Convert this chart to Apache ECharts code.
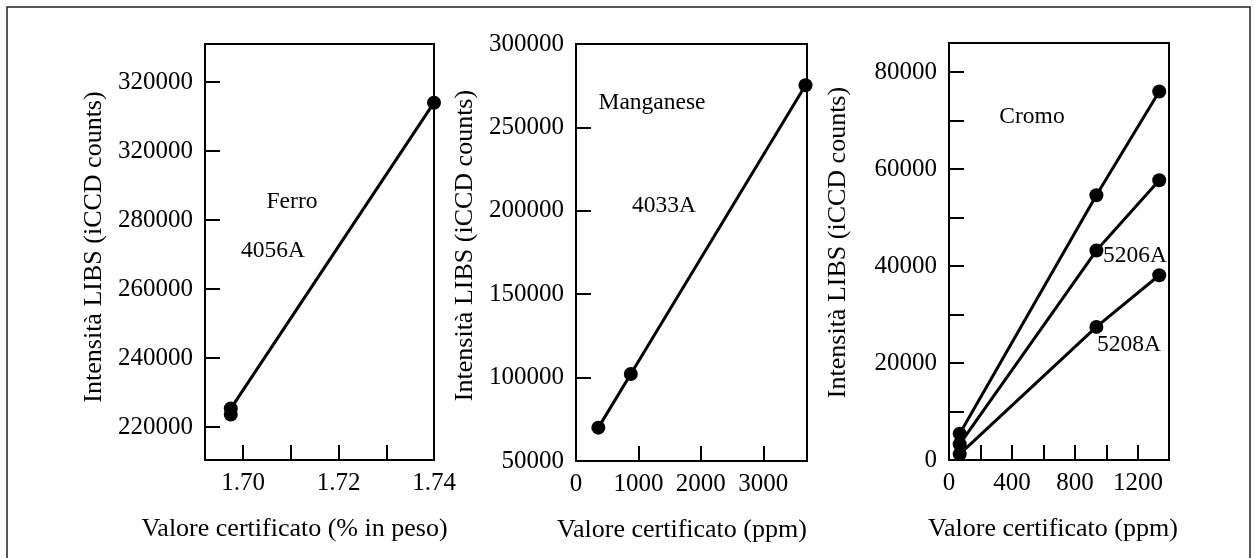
<!DOCTYPE html>
<html>
<head>
<meta charset="utf-8">
<title>Intensità LIBS – curve di calibrazione</title>
<script src="https://cdn.jsdelivr.net/npm/echarts@6/dist/echarts.min.js"></script>
<style>
  html, body { margin: 0; padding: 0; background: #fff; }
  #chart { width: 1254px; height: 558px; }
</style>
</head>
<body>
<div id="chart"></div>
<script>
// ---- Ferro, riga 4056A ----
const ferroX = [1.6974, 1.6974, 1.74];
const ferroY = [223650, 225400, 314000];
const ferroXTickValues = [1.70, 1.72, 1.74];
const ferroXTickLabels = ['1.70', '1.72', '1.74'];
const ferroYTickValues = [220000, 240000, 260000, 280000, 300000, 320000];
const ferroYTickLabels = ['220000', '240000', '260000', '280000', '320000', '320000'];

// ---- Manganese, riga 4033A ----
const mnX = [358, 878, 3676];
const mnY = [70000, 102200, 275300];
const mnXTickValues = [0, 1000, 2000, 3000];
const mnXTickLabels = ['0', '1000', '2000', '3000'];
const mnYTickValues = [50000, 100000, 150000, 200000, 250000, 300000];
const mnYTickLabels = ['50000', '100000', '150000', '200000', '250000', '300000'];

// ---- Cromo: tre righe di emissione ----
const crX = [68, 936, 1335];
const crTopY = [5400, 54600, 76000];
const cr5206Y = [3260, 43200, 57700];
const cr5208Y = [1220, 27450, 38100];
const crXTickValues = [0, 400, 800, 1200];
const crXTickLabels = ['0', '400', '800', '1200'];
const crYTickValues = [0, 20000, 40000, 60000, 80000];
const crYTickLabels = ['0', '20000', '40000', '60000', '80000'];

// ---- text ----
const yTitle = 'Intensità LIBS (iCCD counts)';
const xTitles = ['Valore certificato (% in peso)', 'Valore certificato (ppm)', 'Valore certificato (ppm)'];
const notes = ['Ferro', '4056A', 'Manganese', '4033A', 'Cromo', '5206A', '5208A'];

const FONT = '"Liberation Serif", "Times New Roman", "DejaVu Serif", serif';
const INK = '#000';

function pick(values, labels) {
  return function (v) {
    for (let i = 0; i < values.length; i++) {
      if (Math.abs(values[i] - v) <= 1e-6 * Math.max(1, Math.abs(values[i]))) return labels[i];
    }
    return '';
  };
}

function zip(xs, ys) { return xs.map((x, i) => [x, ys[i]]); }

function baseAxis(extra) {
  return Object.assign({
    type: 'value',
    axisLine: { show: true, onZero: false, lineStyle: { color: INK, width: 2 } },
    axisTick: { show: true, inside: true, length: 15, lineStyle: { color: INK, width: 2 } },
    splitLine: { show: false },
    nameLocation: 'middle',
    nameTextStyle: { fontFamily: FONT, fontSize: 26, color: INK }
  }, extra);
}

function xAxis(grid, min, max, intervalOpts, vals, labs, title, padRight) {
  return baseAxis(Object.assign({
    gridIndex: grid, min: min, max: max,
    name: title, nameGap: 56,
    nameTextStyle: { fontFamily: FONT, fontSize: 26, color: INK, padding: [0, padRight, 0, 0] },
    axisLabel: { fontFamily: FONT, fontSize: 25, color: INK, margin: 11,
      showMinLabel: true, showMaxLabel: true, formatter: pick(vals, labs) }
  }, intervalOpts));
}

function yAxis(grid, min, max, intervalOpts, vals, labs, padLeft) {
  return baseAxis(Object.assign({
    gridIndex: grid, min: min, max: max,
    name: yTitle, nameRotate: 90, nameGap: 98,
    nameTextStyle: { fontFamily: FONT, fontSize: 26, color: INK, padding: [0, 0, 0, padLeft] },
    axisLabel: { fontFamily: FONT, fontSize: 25, color: INK, margin: 12,
      showMinLabel: true, showMaxLabel: true, formatter: pick(vals, labs) }
  }, intervalOpts));
}

function lineSeries(name, xi, yi, data) {
  return {
    name: name, type: 'line', xAxisIndex: xi, yAxisIndex: yi, data: data,
    symbol: 'circle', symbolSize: 14, clip: false, silent: true,
    lineStyle: { color: INK, width: 3 }, itemStyle: { color: INK }
  };
}

function note(text, x, y) {
  return { type: 'text', x: x, y: y, silent: true,
    style: { text: text, font: '23.5px ' + FONT, fill: INK,
      align: 'center', verticalAlign: 'middle', textAlign: 'center', textVerticalAlign: 'middle' } };
}

const chart = echarts.init(document.getElementById('chart'), null, { renderer: 'canvas' });

chart.setOption({
  animation: false,
  backgroundColor: '#fff',
  grid: [
    { left: 205, top: 44, width: 229, height: 416, show: true, borderColor: INK, borderWidth: 2, containLabel: false },
    { left: 576, top: 44, width: 231, height: 417, show: true, borderColor: INK, borderWidth: 2, containLabel: false },
    { left: 949, top: 43, width: 220, height: 417, show: true, borderColor: INK, borderWidth: 2, containLabel: false }
  ],
  xAxis: [
    xAxis(0, 1.692, 1.74, { minInterval: 0.01, maxInterval: 0.01 }, ferroXTickValues, ferroXTickLabels, xTitles[0], 50),
    xAxis(1, 0, 3700, { interval: 1000 }, mnXTickValues, mnXTickLabels, xTitles[1], 19),
    xAxis(2, 0, 1397, { interval: 200 }, crXTickValues, crXTickLabels, xTitles[2], 12)
  ],
  yAxis: [
    yAxis(0, 210500, 331000, { minInterval: 20000, maxInterval: 20000 }, ferroYTickValues, ferroYTickLabels, 10),
    yAxis(1, 50000, 300000, { interval: 50000 }, mnYTickValues, mnYTickLabels, 14),
    yAxis(2, 0, 86000, { interval: 10000 }, crYTickValues, crYTickLabels, 18)
  ],
  series: [
    lineSeries('Ferro 4056A', 0, 0, zip(ferroX, ferroY)),
    lineSeries('Manganese 4033A', 1, 1, zip(mnX, mnY)),
    lineSeries('Cromo (riga superiore)', 2, 2, zip(crX, crTopY)),
    lineSeries('Cromo 5206A', 2, 2, zip(crX, cr5206Y)),
    lineSeries('Cromo 5208A', 2, 2, zip(crX, cr5208Y))
  ],
  graphic: [
    { type: 'rect', silent: true, shape: { x: 7, y: 7, width: 1243, height: 620 },
      style: { fill: 'none', stroke: '#222', lineWidth: 1.5 } },
    note(notes[0], 292, 202),
    note(notes[1], 273, 251),
    note(notes[2], 652, 103),
    note(notes[3], 664, 206),
    note(notes[4], 1032, 117),
    note(notes[5], 1135, 256),
    note(notes[6], 1129, 345)
  ]
});
</script>
</body>
</html>
